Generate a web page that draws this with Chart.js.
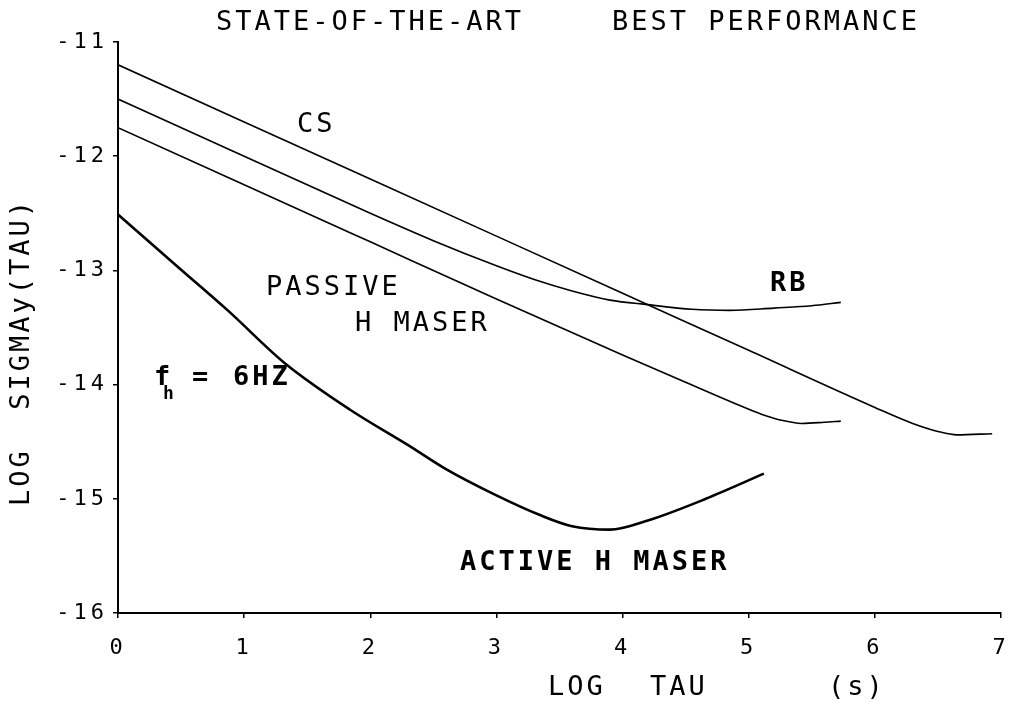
<!DOCTYPE html>
<html>
<head>
<meta charset="utf-8">
<script src="https://cdn.jsdelivr.net/npm/chart.js@4/dist/chart.umd.min.js"></script>
<style>
html,body{margin:0;padding:0;background:#fff;}
#wrap{width:1013px;height:704px;position:relative;}
</style>
</head>
<body>
<div id="wrap"><canvas id="c" width="1013" height="704"></canvas></div>
<script>
// ---- data ----
const xTicks = [0, 1, 2, 3, 4, 5, 6, 7];
const yTicks = [-16, -15, -14, -13, -12, -11];

const csTau   = [0, 1, 2, 3, 4, 5, 6, 6.3, 6.5, 6.65, 6.93];
const csSigma = [-11.2, -11.7, -12.2, -12.7, -13.2, -13.7, -14.2, -14.34, -14.41, -14.44, -14.43];

const rbTau   = [0, 1, 2, 2.5, 3, 3.3, 3.6, 3.9, 4.2, 4.55, 4.85, 5.2, 5.5, 5.73];
const rbSigma = [-11.5, -12.0, -12.5, -12.74, -12.96, -13.08, -13.18, -13.26, -13.3, -13.34, -13.35, -13.33, -13.31, -13.28];

const pasTau   = [0, 1, 2, 3, 4, 4.5, 4.9, 5.1, 5.25, 5.42, 5.6, 5.73];
const pasSigma = [-11.75, -12.25, -12.75, -13.25, -13.74, -13.98, -14.17, -14.26, -14.31, -14.34, -14.33, -14.32];

const actTau   = [0, 0.475, 0.87, 1.32, 1.84, 2.3, 2.6, 3.0, 3.34, 3.6, 3.9, 4.2, 4.66, 5.12];
const actSigma = [-12.51, -12.97, -13.35, -13.81, -14.22, -14.53, -14.74, -14.97, -15.14, -15.24, -15.27, -15.19, -15.0, -14.78];

const titleLeft  = "STATE-OF-THE-ART";
const titleRight = "BEST PERFORMANCE";
const xTitleA = "LOG";
const xTitleB = "TAU";
const xUnit = "(s)";
const yTitle = "LOG  SIGMAy(TAU)";

function pts(xs, ys){ return xs.map((x,i)=>({x:x, y:ys[i]})); }

const FONT = '"DejaVu Sans Mono", monospace';

const textPlugin = {
  id: 'plotText',
  beforeDraw(chart){ chart.ctx.letterSpacing = '4px'; },
  afterDraw(chart){
    const ctx = chart.ctx;
    ctx.save();
    ctx.fillStyle = '#000';
    ctx.textBaseline = 'middle';
    ctx.textAlign = 'left';
    function t(s, x, y, bold, size, ls){
      ctx.font = (bold ? 'bold ' : '') + (size||27) + 'px ' + FONT;
      ctx.letterSpacing = (ls===undefined ? 3 : ls) + 'px';
      ctx.fillText(s, x, y);
    }
    t(titleLeft, 216, 23, false);
    t(titleRight, 612, 23, false);
    t(xTitleA, 548, 688, false);
    t(xTitleB, 650, 688, false);
    t(xUnit, 828, 688, false);
    // y title rotated
    ctx.save();
    ctx.translate(22, 506);
    ctx.rotate(-Math.PI/2);
    t(yTitle, 0, 0, false);
    ctx.restore();
    // curve labels
    t("CS", 297, 125, false);
    t("RB", 770, 284, true);
    t("PASSIVE", 266, 288, false);
    t("H MASER", 355, 324, false);
    t("ACTIVE H MASER", 460, 563, true);
    t("f", 154, 378, true);
    t("h", 163, 394, true, 18, 0);
    t("=", 192, 378, true);
    t("6HZ", 233, 378, true);
    ctx.restore();
  }
};

const lineStyle = {showLine:true, pointRadius:0, borderColor:'#000', backgroundColor:'#000', fill:false, cubicInterpolationMode:'monotone'};

new Chart(document.getElementById('c'), {
  type: 'scatter',
  data: {
    datasets: [
      Object.assign({label:'CS', data: pts(csTau, csSigma), borderWidth:1.6}, lineStyle),
      Object.assign({label:'RB', data: pts(rbTau, rbSigma), borderWidth:1.6}, lineStyle),
      Object.assign({label:'PASSIVE H MASER', data: pts(pasTau, pasSigma), borderWidth:1.6}, lineStyle),
      Object.assign({label:'ACTIVE H MASER', data: pts(actTau, actSigma), borderWidth:2.6}, lineStyle)
    ]
  },
  options: {
    responsive: false,
    animation: false,
    layout: {padding: {top: 42, right: 12, left: 0, bottom: 0}},
    plugins: {legend:{display:false}, tooltip:{enabled:false}, title:{display:false}},
    scales: {
      x: {
        type: 'linear', min: 0, max: 7,
        afterBuildTicks(scale){ scale.ticks = xTicks.map(v=>({value:v})); },
        afterFit(scale){ scale.height = 91; scale.paddingLeft = 0; scale.paddingRight = 0; },
        ticks: {color:'#000', font:{family:FONT, size:22}, padding: 17, maxRotation:0, callback: v => String(v)},
        grid: {display:true, drawOnChartArea:false, color:'#000', tickLength:5, lineWidth:1.5},
        border: {display:true, color:'#000', width:2}
      },
      y: {
        type: 'linear', min: -16, max: -11,
        afterBuildTicks(scale){ scale.ticks = yTicks.map(v=>({value:v})); },
        afterFit(scale){ scale.width = 118; scale.paddingTop = 0; scale.paddingBottom = 0; },
        ticks: {color:'#000', font:{family:FONT, size:22}, padding: 5, callback: v => String(v)},
        grid: {display:true, drawOnChartArea:false, color:'#000', tickLength:5, lineWidth:1.5},
        border: {display:true, color:'#000', width:2}
      }
    }
  },
  plugins: [textPlugin]
});
</script>
</body>
</html>
